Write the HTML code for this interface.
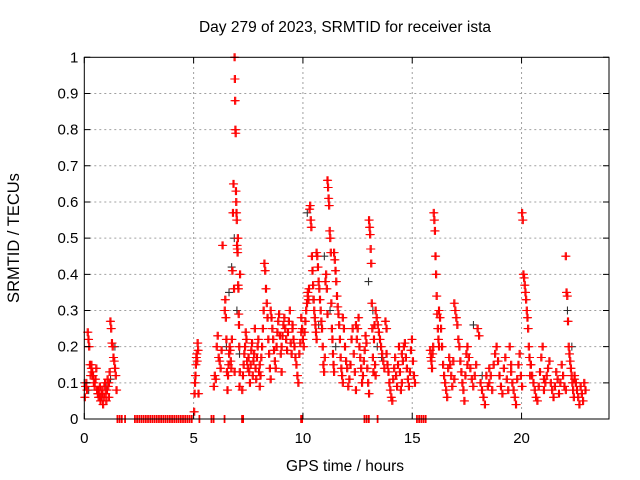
<!DOCTYPE html>
<html><head><meta charset="utf-8"><style>
html,body{margin:0;padding:0;background:#fff;}
svg{display:block;font-family:"Liberation Sans",sans-serif;}
</style></head><body>
<svg id="chart" width="640" height="480" viewBox="0 0 640 480" xmlns="http://www.w3.org/2000/svg">
<rect x="0" y="0" width="640" height="480" fill="#fff"/>
<text x="345" y="32" text-anchor="middle" font-size="15.5" fill="#000">Day 279 of 2023, SRMTID for receiver ista</text>
<text x="345" y="471" text-anchor="middle" font-size="15.5" fill="#000">GPS time / hours</text>
<text transform="translate(19,238) rotate(-90)" text-anchor="middle" font-size="16.5" fill="#000">SRMTID / TECUs</text>
<g id="grid"></g>
<g id="marks"></g>
<g id="axes"></g>
</svg>
<script>
const xTicks = [0, 5, 10, 15, 20];
const xTickLabels = ["0", "5", "10", "15", "20"];
const yTicks = [0, 0.1, 0.2, 0.3, 0.4, 0.5, 0.6, 0.7, 0.8, 0.9, 1];
const yTickLabels = ["0", "0.1", "0.2", "0.3", "0.4", "0.5", "0.6", "0.7", "0.8", "0.9", "1"];
// segments: [startHour, endHour, values...]
const redSegments = [
[0.0,0.3,0.06,0.09,0.1,0.08,0.24,0.22,0.2,0.15,0.12,0.14],
[0.3,0.6,0.15,0.13,0.12,0.1,0.09,0.11,0.14,0.08,0.07],
[0.6,1.1,0.08,0.06,0.07,0.09,0.05,0.06,0.08,0.07,0.04,0.06,0.09,0.1,0.07,0.05,0.08,0.11,0.09,0.06],
[1.1,1.45,0.1,0.13,0.27,0.25,0.21,0.2,0.17,0.16,0.14,0.12,0.08],
[5.0,5.2,0.02,0.07,0.1,0.12,0.15,0.17,0.18,0.16,0.21,0.19,0.07],
[5.9,6.3,0.09,0.12,0.11,0.2,0.23,0.17,0.16,0.14,0.19,0.48],
[6.4,6.85,0.3,0.33,0.28,0.22,0.13,0.08,0.12,0.15,0.18,0.2,0.19,0.16,0.14,0.22,0.41,0.57,0.65,0.36,0.13],
[6.85,7.1,1.0,0.94,0.88,0.8,0.79,0.63,0.6,0.57,0.55,0.48,0.47,0.46,0.5,0.37,0.36,0.29,0.26,0.2,0.09,0.13,0.4],
[7.2,8.0,0.08,0.12,0.15,0.18,0.2,0.24,0.22,0.16,0.14,0.17,0.13,0.1,0.15,0.19,0.21,0.12,0.16,0.18,0.25,0.14,0.11,0.17,0.2,0.22,0.13,0.09],
[8.0,8.5,0.15,0.12,0.17,0.2,0.25,0.3,0.43,0.41,0.36,0.32,0.28,0.22,0.18,0.14,0.11],
[8.5,9.0,0.3,0.28,0.25,0.22,0.19,0.16,0.14,0.2,0.24,0.27,0.29,0.23,0.18,0.13],
[9.0,9.5,0.2,0.23,0.26,0.28,0.25,0.22,0.19,0.24,0.27,0.3,0.21,0.18,0.26],
[9.5,9.9,0.25,0.22,0.2,0.17,0.15,0.12,0.1,0.18,0.21,0.24],
[9.9,10.2,0.28,0.25,0.22,0.2,0.24,0.27,0.3,0.32,0.35],
[10.2,10.6,0.34,0.33,0.36,0.58,0.59,0.55,0.53,0.45,0.41,0.37,0.33,0.3,0.28,0.26,0.24,0.22],
[10.6,11.1,0.46,0.45,0.42,0.38,0.36,0.33,0.3,0.27,0.25,0.2,0.15,0.13,0.17,0.38,0.4,0.36,0.29],
[11.1,11.4,0.66,0.64,0.61,0.59,0.52,0.5,0.46,0.32,0.25,0.22,0.18,0.15,0.13],
[11.4,11.8,0.46,0.44,0.41,0.38,0.34,0.31,0.29,0.26,0.22,0.17,0.14,0.12,0.1],
[11.8,12.4,0.28,0.25,0.2,0.16,0.14,0.09,0.11,0.15,0.22,0.25,0.18,0.13,0.08],
[12.4,13.0,0.26,0.22,0.25,0.28,0.2,0.17,0.14,0.1,0.12,0.16,0.19,0.23,0.21,0.14,0.1,0.07],
[13.0,13.3,0.55,0.53,0.51,0.47,0.43,0.32,0.25,0.17,0.13,0.22,0.26,0.15,0.12],
[13.3,13.8,0.3,0.28,0.26,0.24,0.22,0.2,0.18,0.16,0.14,0.27,0.25],
[13.8,14.5,0.18,0.15,0.13,0.1,0.08,0.06,0.05,0.11,0.14,0.17,0.12,0.09,0.15,0.2,0.13,0.08,0.1],
[14.5,15.1,0.18,0.16,0.2,0.21,0.17,0.14,0.11,0.09,0.13,0.19,0.22,0.16,0.12,0.1],
[15.8,16.2,0.19,0.17,0.16,0.14,0.18,0.2,0.57,0.55,0.52,0.45,0.4,0.34,0.29,0.25,0.22,0.2],
[16.2,16.9,0.3,0.28,0.25,0.2,0.15,0.12,0.1,0.08,0.06,0.14,0.17,0.15,0.12,0.09,0.16,0.11],
[16.9,17.5,0.32,0.3,0.28,0.26,0.22,0.2,0.16,0.13,0.1,0.08,0.05,0.12,0.18,0.15],
[17.5,18.5,0.2,0.17,0.14,0.11,0.09,0.12,0.15,0.25,0.23,0.1,0.08,0.06,0.04,0.12,0.09,0.14],
[18.5,19.5,0.1,0.12,0.08,0.15,0.18,0.2,0.16,0.12,0.09,0.07,0.14,0.17,0.11,0.08,0.2,0.15],
[19.5,20.0,0.13,0.1,0.08,0.06,0.04,0.11,0.15,0.18,0.12,0.09],
[20.0,20.4,0.57,0.55,0.4,0.39,0.37,0.35,0.33,0.3,0.28,0.25,0.2,0.17,0.12,0.15],
[20.4,21.0,0.15,0.12,0.1,0.08,0.06,0.05,0.09,0.13,0.17,0.2,0.11],
[21.0,22.0,0.08,0.1,0.12,0.14,0.16,0.1,0.08,0.06,0.09,0.13,0.11,0.07,0.1,0.15,0.12,0.09,0.08],
[22.0,22.4,0.45,0.35,0.34,0.27,0.2,0.18,0.16,0.14,0.12,0.1,0.08,0.06,0.11],
[22.4,22.9,0.12,0.1,0.08,0.06,0.04,0.09,0.07,0.05,0.1,0.08]
];
const zeroHours = [1.5,1.6,1.7,1.85,2.3,2.4,2.5,2.6,2.7,2.8,2.9,3.0,3.1,3.2,3.3,3.4,3.5,3.6,3.7,3.8,3.9,4.0,4.1,4.2,4.3,4.4,4.5,4.6,4.7,4.8,4.9,5.25,5.8,5.9,6.4,7.2,7.25,9.9,9.95,12.8,12.9,13.0,13.4,15.2,15.3,15.4,15.5,15.6];
const blackSegments = [
[0.0,1.4,0.1,0.08,0.12,0.07,0.06,0.09,0.11,0.2],
[6.5,7.1,0.2,0.35,0.42,0.5,0.3,0.18],
[10.2,11.5,0.57,0.33,0.26,0.45,0.3,0.2],
[13.0,13.6,0.38,0.3,0.2,0.17],
[17.8,18.2,0.26,0.12],[22.1,22.5,0.3,0.2,0.1]
];
const X0=84.3, X1=609, Y0=419, Y1=57.3, XMAX=24, YMAX=1;
const xs = v => X0 + (X1-X0)*v/XMAX;
const ys = v => Y0 - (Y0-Y1)*v/YMAX;
const NS="http://www.w3.org/2000/svg";
function mk(tag, attrs, parent){const e=document.createElementNS(NS,tag);for(const k in attrs)e.setAttribute(k,attrs[k]);parent.appendChild(e);return e;}
const grid=document.getElementById('grid'), marks=document.getElementById('marks'), axes=document.getElementById('axes');
yTicks.forEach((t,i)=>{
  if(i>0&&i<yTicks.length-1){const g=mk('line',{x1:X0,x2:X1,y1:ys(t),y2:ys(t),stroke:'#a0a0a0','stroke-dasharray':'2,3','stroke-width':1},grid);
  
  }
  const tk=mk('path',{d:`M${X0},${ys(t)}h6M${X1},${ys(t)}h-6`,stroke:'#000','stroke-width':1},axes);
  
  
  const lb=mk('text',{x:X0-6,y:ys(t)+5,'text-anchor':'end','font-size':15,fill:'#000'},axes);
  lb.textContent=yTickLabels[i];
  
  
});
xTicks.forEach((t,i)=>{
  if(i>0){const g=mk('line',{x1:xs(t),x2:xs(t),y1:Y0,y2:Y1,stroke:'#a0a0a0','stroke-dasharray':'2,3','stroke-width':1},grid);
  
  }
  const tk=mk('path',{d:`M${xs(t)},${Y0}v-6M${xs(t)},${Y1}v6`,stroke:'#000','stroke-width':1},axes);
  
  
  const lb=mk('text',{x:xs(t),y:Y0+24,'text-anchor':'middle','font-size':15,fill:'#000'},axes);
  lb.textContent=xTickLabels[i];
  
  
});
const frame=mk('rect',{x:X0,y:Y1,width:X1-X0,height:Y0-Y1,fill:'none',stroke:'#000','stroke-width':1},axes);


function plus(t,v,color,name){
  const x=xs(t), y=ys(v);
  const p=mk('path',{d:`M${x-4},${y}h8M${x},${y-4}v8`,stroke:color,'stroke-width':1.1},marks);
  
  
}
function drawSegs(segs,color,name,dup){
  segs.forEach(s=>{const a=s[0],b=s[1],vals=s.slice(2),n=vals.length;
    vals.forEach((v,i)=>{const t=a+(b-a)*(n>1?i/(n-1):0);
      plus(t,v,color,name);
      if(dup){plus(t+0.05,v,color,name);}});});
}
drawSegs(blackSegments,'#333','black-point',false);
drawSegs(redSegments,'#ff0000','red-point',true);
zeroHours.forEach(t=>{plus(t,0,'#ff0000','zero-point');plus(t+0.03,0,'#ff0000','zero-point');});
</script>
</body></html>
